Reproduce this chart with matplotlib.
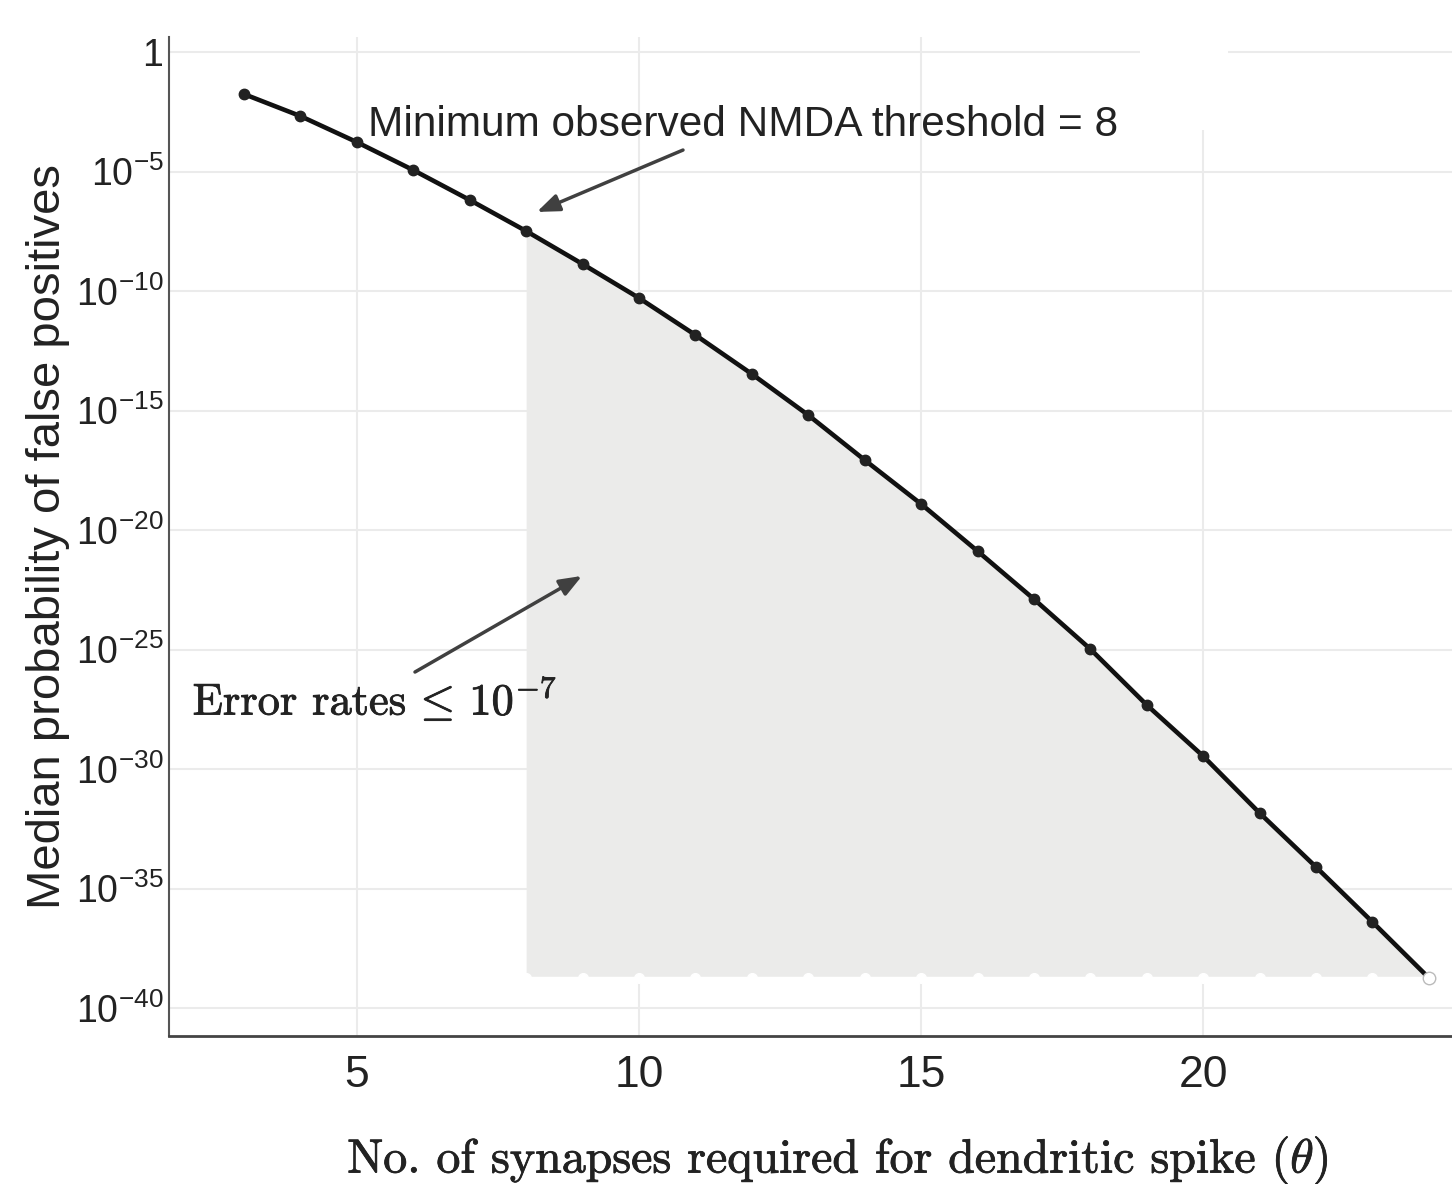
import numpy as np
import matplotlib
matplotlib.use("Agg")
import matplotlib.pyplot as plt
import matplotlib.patheffects as pe
from matplotlib.patches import Rectangle

# ---- data ----
theta = [3, 4, 5, 6, 7, 8, 9, 10, 11, 12, 13, 14, 15, 16, 17, 18, 19, 20, 21, 22, 23, 24]
log10_prob = [-1.76, -2.68, -3.77, -4.94, -6.19, -7.49, -8.87, -10.29, -11.84, -13.47,
              -15.19, -17.07, -18.91, -20.88, -22.89, -24.98, -27.32, -29.46, -31.84,
              -34.10, -36.40, -38.74]
prob = [10.0 ** e for e in log10_prob]
nmda_threshold = 8
x_ticks = [5, 10, 15, 20]
y_tick_exps = [0, -5, -10, -15, -20, -25, -30, -35, -40]
y_tick_labels = ["1"] + [r"$10^{%d}$" % e for e in y_tick_exps[1:]]

plt.rcParams["font.family"] = ["Liberation Sans", "DejaVu Sans"]
plt.rcParams["mathtext.fontset"] = "custom"
plt.rcParams["mathtext.rm"] = "Liberation Sans"
plt.rcParams["mathtext.it"] = "Liberation Sans:italic"
plt.rcParams["mathtext.bf"] = "Liberation Sans:bold"

fig = plt.figure(figsize=(14.52, 11.84), dpi=100)
ax = fig.add_axes([169 / 1452, 1 - 1036 / 1184, 1 - 169 / 1452, (1036 - 37) / 1184])

ax.set_yscale("log")
ax.set_xlim(1.67, 24.41)
ax.set_ylim(10 ** -41.17, 10 ** 0.63)

# grid
ax.set_axisbelow(True)
ax.grid(True, color="#ebebeb", linewidth=1.5, zorder=0.5)

# shaded region (theta >= threshold)
sel_x = [t for t in theta if t >= nmda_threshold]
sel_y = [p for t, p in zip(theta, prob) if t >= nmda_threshold]
floor = [prob[-1]] * len(sel_x)
ax.fill_between(sel_x, floor, sel_y, color="#ebebea", linewidth=0, zorder=1)
ax.plot(sel_x, floor, color="white", linewidth=2.5, marker="o", markersize=7,
        markerfacecolor="white", markeredgecolor="white", zorder=2)

# main curve
ax.plot(theta, prob, color="#111111", linewidth=3.3, marker="o", markersize=7.5,
        markerfacecolor="#222222", markeredgecolor="#222222", zorder=3)
ax.plot([theta[-1]], [prob[-1]], marker="o", markersize=9, markerfacecolor="white",
        markeredgecolor="#bbbbbb", markeredgewidth=1.0, linestyle="none", zorder=4)

# empty white box (top right)
ax.add_patch(Rectangle((0.757, 0.907), 0.0686, 0.093, transform=ax.transAxes,
                       facecolor="white", edgecolor="none", zorder=0.9))

# annotations
arrow_style = dict(arrowstyle="-|>,head_length=0.9,head_width=0.35",
                   color="#404040", lw=2.5, shrinkA=0, shrinkB=0, mutation_scale=15)
ax.text(5.19, 10 ** -3.05, "Minimum observed NMDA threshold = 8", fontsize=30.5,
        color="#222222", ha="left", va="center")
ax.annotate("", xy=(8.19, 10 ** -6.69), xytext=(10.78, 10 ** -4.10),
            arrowprops=arrow_style)
ax.annotate("", xy=(8.99, 10 ** -21.92), xytext=(6.03, 10 ** -25.94),
            arrowprops=arrow_style)
stroke = [pe.withStroke(linewidth=0.6, foreground="#222222")]
ax.text(2.09, 10 ** -27.1, r"Error rates$\,\leq\,10^{-7}$", fontsize=32,
        family="cmr10", color="#222222", ha="left", va="center",
        math_fontfamily="cm", path_effects=stroke)

# axes styling
ax.set_xticks(x_ticks)
ax.set_xticklabels([str(v) for v in x_ticks])
ax.set_yticks([10.0 ** e for e in y_tick_exps])
ax.set_yticklabels(y_tick_labels)
ax.yaxis.set_minor_locator(matplotlib.ticker.NullLocator())
ax.tick_params(axis="x", labelsize=32, length=0, pad=14, colors="#222222")
ax.tick_params(axis="y", labelsize=27, length=0, pad=4, colors="#222222")
for s in ["top", "right"]:
    ax.spines[s].set_visible(False)
ax.spines["left"].set_color("#555555")
ax.spines["left"].set_linewidth(1.5)
ax.spines["bottom"].set_color("#444444")
ax.spines["bottom"].set_linewidth(2.0)

ax.set_ylabel("Median probability of false positives", fontsize=34, color="#222222",
              labelpad=4)
xl = ax.set_xlabel(r"No. of synapses required for dendritic spike $(\theta)$",
                   fontsize=34.5, family="cmr10", color="#222222",
                   math_fontfamily="cm")
xl.set_path_effects(stroke)
ax.xaxis.set_label_coords((838 - 169) / 1283, -(1160 - 1036) / 999)
xl.set_verticalalignment("center")

fig.savefig("out.png", dpi=100, facecolor="white")
